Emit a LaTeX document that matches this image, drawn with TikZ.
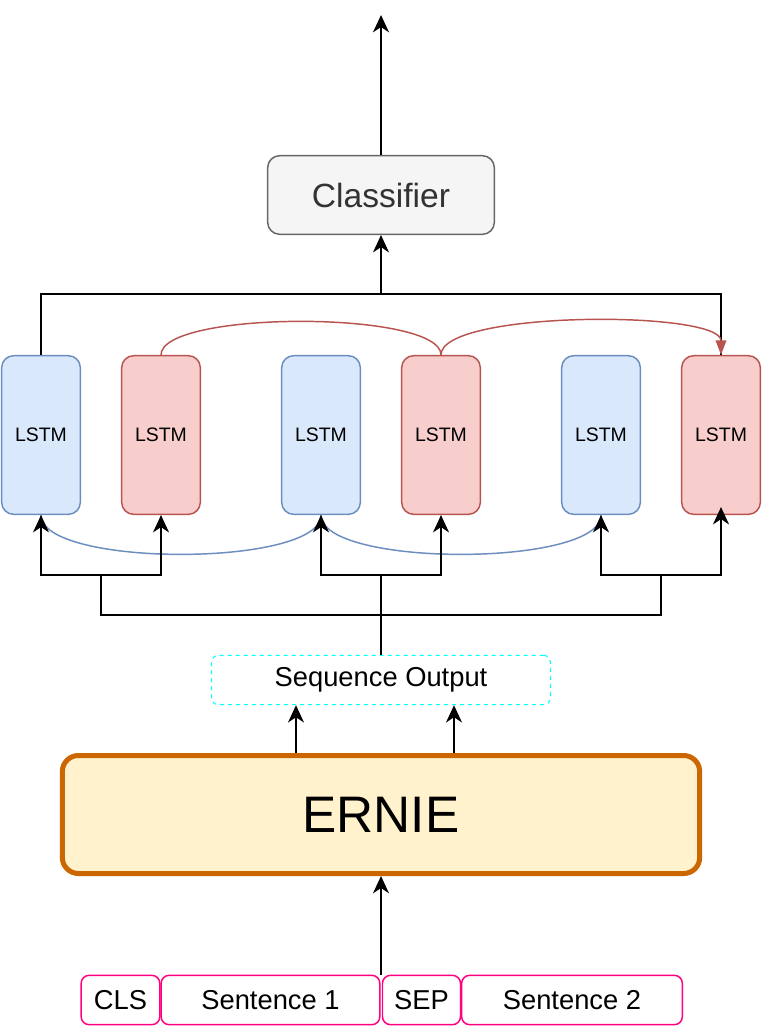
\documentclass[tikz,border=0pt]{standalone}
\usepackage{fontspec}
\setmainfont{Liberation Sans}
\usetikzlibrary{arrows.meta}
\definecolor{blueFill}{HTML}{DAE8FC}
\definecolor{blueLine}{HTML}{6C8EBF}
\definecolor{redFill}{HTML}{F8CECC}
\definecolor{redLine}{HTML}{B85450}
\definecolor{grayFill}{HTML}{F5F5F5}
\definecolor{grayLine}{HTML}{666666}
\definecolor{grayText}{HTML}{333333}
\definecolor{ernieFill}{HTML}{FFF2CC}
\definecolor{ernieLine}{HTML}{CC6600}
\definecolor{tokenLine}{HTML}{FF0080}
\definecolor{seqLine}{HTML}{00FFFF}
\begin{document}
\begin{tikzpicture}[x=0.75pt,y=0.75pt,yscale=-1,xscale=1,
  line width=1.1pt,
  arr/.style={-{Stealth[length=13pt,width=12pt,inset=4pt]}},
  lstmblue/.style={draw=blueLine,fill=blueFill,rounded corners=9pt,minimum width=59pt,minimum height=119pt,inner sep=0pt,font=\fontsize{14.6}{17}\selectfont},
  lstmred/.style={lstmblue,draw=redLine,fill=redFill},
  tokenbox/.style={draw=tokenLine,fill=white,rounded corners=6pt,minimum height=37pt,inner sep=0pt,font=\fontsize{20.5}{24}\selectfont}
]
\useasboundingbox (0,0) rectangle (764,1028);

%Shape: Rounded Rect [id:classifier]
\draw (381,195) node [draw=grayLine,fill=grayFill,text=grayText,rounded corners=9pt,minimum width=170pt,minimum height=59pt,font=\fontsize{25.2}{30}\selectfont] (cls) {Classifier};
%Shape: LSTM boxes
\draw (41,435) node [lstmblue] (b1) {LSTM};
\draw (161,435) node [lstmred] (r1) {LSTM};
\draw (321,435) node [lstmblue] (b2) {LSTM};
\draw (441,435) node [lstmred] (r2) {LSTM};
\draw (601,435) node [lstmblue] (b3) {LSTM};
\draw (721,435) node [lstmred] (r3) {LSTM};
%Shape: Rounded Rect [id:seqout]
\draw (381,680) node [draw=seqLine,dashed,line width=0.8pt,rounded corners=5pt,minimum width=254pt,minimum height=37pt,font=\fontsize{20.5}{24}\selectfont] (seq) {Sequence Output};
%Shape: Rounded Rect [id:ernie]
\draw (381,814.5) node [draw=ernieLine,fill=ernieFill,line width=3.75pt,rounded corners=12pt,minimum width=478pt,minimum height=88.5pt,font=\fontsize{38.5}{44}\selectfont] (ernie) {ERNIE};
%Shape: tokens
\draw (120.5,1000) node [tokenbox,minimum width=59pt] (tcls) {CLS};
\draw (270.5,1000) node [tokenbox,minimum width=164pt] (sent1) {Sentence 1};
\draw (421.5,1000) node [tokenbox,minimum width=58.5pt] (tsep) {SEP};
\draw (572,1000) node [tokenbox,minimum width=165.5pt] (sent2) {Sentence 2};

\coordinate (out) at (381,15);
\coordinate (topbus) at (381,294);
\coordinate (m1) at (101,575);
\coordinate (m2) at (381,575);
\coordinate (m3) at (661,575);
\coordinate (lowbus) at (381,615);

%Straight Lines
\draw [arr] (cls.north) -- (out);
\draw (b1.north) |- (topbus) -| (r3.north);
\draw [arr] (topbus) -- (cls.south);

%Curve Lines
\draw [redLine] (r1.north) to[out=-90,in=-90,looseness=0.41] (r2.north);
\draw [redLine,-{Triangle[length=11pt,width=8pt]}] (r2.north) to[out=-90,in=-90,looseness=0.41] (r3.north);
\draw [blueLine] (b1.south) to[out=90,in=90,looseness=0.48] (b2.south);
\draw [blueLine] (b2.south) to[out=90,in=90,looseness=0.48] (b3.south);

%Straight Lines
\draw (seq.north) -- (m2);
\draw (m1) |- (lowbus) -| (m3);
\draw [arr] (m1) -| (b1.south);
\draw [arr] (m1) -| (r1.south);
\draw [arr] (m2) -| (b2.south);
\draw [arr] (m2) -| (r2.south);
\draw [arr] (m3) -| (b3.south);
\draw [arr] (m3) -| ([yshift=-6]r3.south);
\draw [arr] (ernie.north -| 296,0) -- (seq.south -| 296,0);
\draw [arr] (ernie.north -| 454,0) -- (seq.south -| 454,0);
\draw [arr] (ernie.south |- sent1.north) -- (ernie.south);

\end{tikzpicture}
\end{document}
